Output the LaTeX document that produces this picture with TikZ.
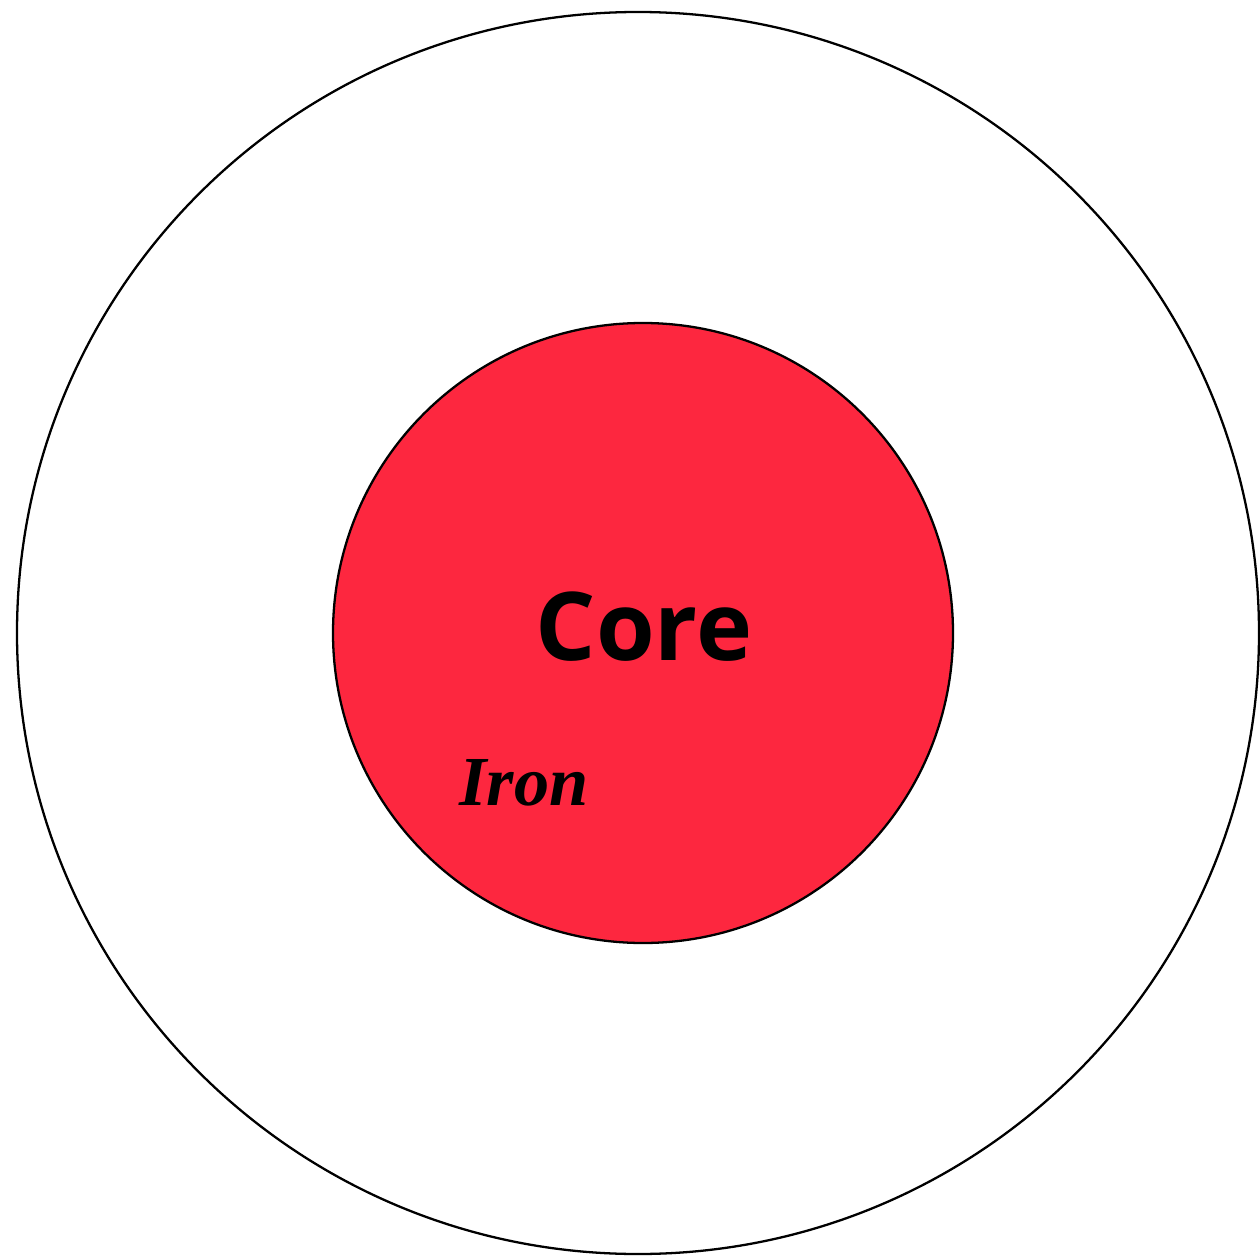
\documentclass[tikz,border=0pt]{standalone}
\usepackage{fontspec}
\usepackage{xcolor}
\usepackage{tikz}
\newfontfamily\corefont{Open Sans}
\newfontfamily\ironfont{Liberation Serif}
\definecolor{figline}{RGB}{0,0,0}
\definecolor{figcore}{RGB}{253,39,63}
\tikzset{
  shell/.style ={draw=figline, line width=1.3pt},
  corec/.style ={draw=figline, line width=1.3pt, fill=figcore},
  labc/.style  ={font=\corefont\fontsize{54}{58}\selectfont\bfseries, inner sep=0pt},
  labi/.style  ={font=\ironfont\fontsize{40}{44}\selectfont\bfseries\itshape, inner sep=0pt},
}
\begin{document}
\begin{tikzpicture}[scale=1]
  \useasboundingbox[fill=white] (0,0) rectangle (25.2,-25.18);
  \draw[shell] (12.76,-12.66) circle (12.42);
  \draw[corec] (12.86,-12.66) circle (6.2);
  \node[labc,anchor=base] (core) at (12.88,-13.2) {Core};
  \node[labi,anchor=base] (iron) at (10.48,-16.1) {Iron};
\end{tikzpicture}
\end{document}
